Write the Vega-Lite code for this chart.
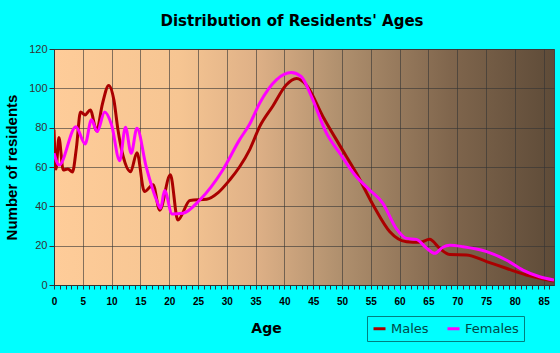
{
  "$schema": "https://vega.github.io/schema/vega-lite/v6.json",
  "width": 500,
  "height": 236,
  "autosize": {"type": "none"},
  "padding": {"left": 54, "top": 49, "right": 6, "bottom": 68},
  "background": "#00FFFF",
  "title": {"text": "Distribution of Residents' Ages", "font": "DejaVu Sans", "fontSize": 15, "fontWeight": "bold", "color": "#000000", "anchor": "middle", "frame": "group", "dx": -12, "offset": 14},
  "config": {
    "view": {"stroke": "#444444", "strokeWidth": 1,
      "fill": {"gradient": "linear", "x1": 0, "y1": 0, "x2": 1, "y2": 0,
        "stops": [
          {"offset": 0, "color": "#FECC99"},
          {"offset": 0.25, "color": "#F6C592"},
          {"offset": 0.4, "color": "#DFB187"},
          {"offset": 0.57, "color": "#B0906E"},
          {"offset": 0.79, "color": "#80664D"},
          {"offset": 1, "color": "#5E4B38"}
        ]}}
  },
  "data": {"values": [
    {"age": 0, "n": 79, "sex": "Males"},
    {"age": 0.35, "n": 59, "sex": "Males"},
    {"age": 0.85, "n": 75, "sex": "Males"},
    {"age": 1.6, "n": 58.5, "sex": "Males"},
    {"age": 2.4, "n": 59, "sex": "Males"},
    {"age": 3.2, "n": 57.5, "sex": "Males"},
    {"age": 3.9, "n": 70, "sex": "Males"},
    {"age": 4.6, "n": 88, "sex": "Males"},
    {"age": 5.4, "n": 86.5, "sex": "Males"},
    {"age": 6.3, "n": 89, "sex": "Males"},
    {"age": 7.4, "n": 78.5, "sex": "Males"},
    {"age": 8.4, "n": 92, "sex": "Males"},
    {"age": 9.5, "n": 101.5, "sex": "Males"},
    {"age": 10.4, "n": 94, "sex": "Males"},
    {"age": 11.1, "n": 79, "sex": "Males"},
    {"age": 12, "n": 65.5, "sex": "Males"},
    {"age": 13.3, "n": 57.6, "sex": "Males"},
    {"age": 14.4, "n": 67.3, "sex": "Males"},
    {"age": 15.7, "n": 47.5, "sex": "Males"},
    {"age": 17.2, "n": 51, "sex": "Males"},
    {"age": 18.35, "n": 38, "sex": "Males"},
    {"age": 20.2, "n": 56, "sex": "Males"},
    {"age": 21.5, "n": 33, "sex": "Males"},
    {"age": 23.6, "n": 43, "sex": "Males"},
    {"age": 26.5, "n": 43.6, "sex": "Males"},
    {"age": 28.5, "n": 47, "sex": "Males"},
    {"age": 30.5, "n": 53.4, "sex": "Males"},
    {"age": 32.2, "n": 60, "sex": "Males"},
    {"age": 34, "n": 69, "sex": "Males"},
    {"age": 35.7, "n": 80.5, "sex": "Males"},
    {"age": 38, "n": 91, "sex": "Males"},
    {"age": 40.3, "n": 101.7, "sex": "Males"},
    {"age": 42.1, "n": 105, "sex": "Males"},
    {"age": 43.8, "n": 101.7, "sex": "Males"},
    {"age": 46.7, "n": 85.6, "sex": "Males"},
    {"age": 49.6, "n": 71, "sex": "Males"},
    {"age": 52.5, "n": 56.8, "sex": "Males"},
    {"age": 55.4, "n": 40.7, "sex": "Males"},
    {"age": 58.3, "n": 27.1, "sex": "Males"},
    {"age": 61.2, "n": 22, "sex": "Males"},
    {"age": 63.5, "n": 21.7, "sex": "Males"},
    {"age": 65.2, "n": 23.2, "sex": "Males"},
    {"age": 67, "n": 18.5, "sex": "Males"},
    {"age": 68.7, "n": 15.5, "sex": "Males"},
    {"age": 71.6, "n": 15.3, "sex": "Males"},
    {"age": 75.1, "n": 11.9, "sex": "Males"},
    {"age": 78.5, "n": 8.5, "sex": "Males"},
    {"age": 82, "n": 5.1, "sex": "Males"},
    {"age": 86.8, "n": 2, "sex": "Males"},
    {"age": 0, "n": 67, "sex": "Females"},
    {"age": 0.9, "n": 61, "sex": "Females"},
    {"age": 3.8, "n": 80.5, "sex": "Females"},
    {"age": 5.4, "n": 71.7, "sex": "Females"},
    {"age": 6.5, "n": 84, "sex": "Females"},
    {"age": 7.5, "n": 78, "sex": "Females"},
    {"age": 8.8, "n": 88, "sex": "Females"},
    {"age": 10, "n": 81.4, "sex": "Females"},
    {"age": 11.4, "n": 63.2, "sex": "Females"},
    {"age": 12.4, "n": 80.2, "sex": "Females"},
    {"age": 13.4, "n": 67, "sex": "Females"},
    {"age": 14.4, "n": 79.7, "sex": "Females"},
    {"age": 16, "n": 60.2, "sex": "Females"},
    {"age": 17.8, "n": 43.2, "sex": "Females"},
    {"age": 18.5, "n": 39, "sex": "Females"},
    {"age": 19.2, "n": 48, "sex": "Females"},
    {"age": 20.5, "n": 36.1, "sex": "Females"},
    {"age": 22.4, "n": 36.5, "sex": "Females"},
    {"age": 25.3, "n": 43.2, "sex": "Females"},
    {"age": 29.3, "n": 58.5, "sex": "Females"},
    {"age": 32.2, "n": 73.8, "sex": "Females"},
    {"age": 34, "n": 82, "sex": "Females"},
    {"age": 35.7, "n": 92.4, "sex": "Females"},
    {"age": 38.6, "n": 104.3, "sex": "Females"},
    {"age": 41.2, "n": 108, "sex": "Females"},
    {"age": 42.9, "n": 106, "sex": "Females"},
    {"age": 44.7, "n": 95.8, "sex": "Females"},
    {"age": 47.3, "n": 77.2, "sex": "Females"},
    {"age": 49.6, "n": 67, "sex": "Females"},
    {"age": 52.5, "n": 55, "sex": "Females"},
    {"age": 54.8, "n": 48.3, "sex": "Females"},
    {"age": 57.1, "n": 41.5, "sex": "Females"},
    {"age": 59.4, "n": 28.8, "sex": "Females"},
    {"age": 61.2, "n": 23.7, "sex": "Females"},
    {"age": 62.9, "n": 23.2, "sex": "Females"},
    {"age": 64.7, "n": 18.7, "sex": "Females"},
    {"age": 66.1, "n": 16.1, "sex": "Females"},
    {"age": 67.5, "n": 19.2, "sex": "Females"},
    {"age": 68.7, "n": 20.2, "sex": "Females"},
    {"age": 71, "n": 19.5, "sex": "Females"},
    {"age": 75.1, "n": 17, "sex": "Females"},
    {"age": 78.5, "n": 12.7, "sex": "Females"},
    {"age": 81.4, "n": 7.6, "sex": "Females"},
    {"age": 84.3, "n": 4.2, "sex": "Females"},
    {"age": 86.8, "n": 2.5, "sex": "Females"}
  ]},
  "mark": {"type": "line", "interpolate": "monotone", "strokeWidth": 3, "clip": true},
  "encoding": {
    "x": {"field": "age", "type": "quantitative",
      "scale": {"domain": [0, 86.8], "nice": false, "zero": false},
      "axis": {
        "title": "Age", "titleFont": "DejaVu Sans", "titleFontSize": 14, "titleFontWeight": "bold", "titleColor": "#000000",
        "titleX": 212, "titleY": 43, "titleBaseline": "middle",
        "values": [0,1,2,3,4,5,6,7,8,9,10,11,12,13,14,15,16,17,18,19,20,21,22,23,24,25,26,27,28,29,30,31,32,33,34,35,36,37,38,39,40,41,42,43,44,45,46,47,48,49,50,51,52,53,54,55,56,57,58,59,60,61,62,63,64,65,66,67,68,69,70,71,72,73,74,75,76,77,78,79,80,81,82,83,84,85,86],
        "labelExpr": "datum.value % 5 === 0 ? datum.label : ''",
        "labelFont": "Liberation Sans", "labelFontSize": 10, "labelFontWeight": "bold", "labelColor": "#000000", "labelPadding": 7,
        "labelOverlap": false, "labelFlush": false,
        "tickSize": 4, "tickColor": "#333333", "domainColor": "#333333",
        "grid": true, "gridColor": "#333333",
        "gridOpacity": {"condition": {"test": "datum.value % 5 === 0", "value": 0.6}, "value": 0}
      }},
    "y": {"field": "n", "type": "quantitative",
      "scale": {"domain": [0, 120], "nice": false},
      "axis": {
        "title": "Number of residents", "titleFont": "Liberation Sans", "titleFontSize": 15, "titleFontWeight": "bold", "titleColor": "#000000", "titlePadding": 9,
        "values": [0, 20, 40, 60, 80, 100, 120],
        "labelFont": "Liberation Sans", "labelFontSize": 11, "labelColor": "#333333", "labelPadding": 2,
        "tickSize": 5, "tickColor": "#333333", "domainColor": "#333333",
        "grid": true, "gridColor": "#333333", "gridOpacity": 0.6
      }},
    "color": {"field": "sex", "type": "nominal",
      "scale": {"domain": ["Males", "Females"], "range": ["#AA0000", "#FF00FF"]},
      "legend": {"title": null, "orient": "none", "direction": "horizontal", "legendX": 313, "legendY": 267,
        "strokeColor": "#008080", "padding": 5, "symbolType": "stroke", "symbolStrokeWidth": 3, "symbolSize": 144,
        "labelFont": "DejaVu Sans", "labelFontSize": 13, "labelColor": "#004848", "columnPadding": 12, "labelOffset": 4}}
  }
}
